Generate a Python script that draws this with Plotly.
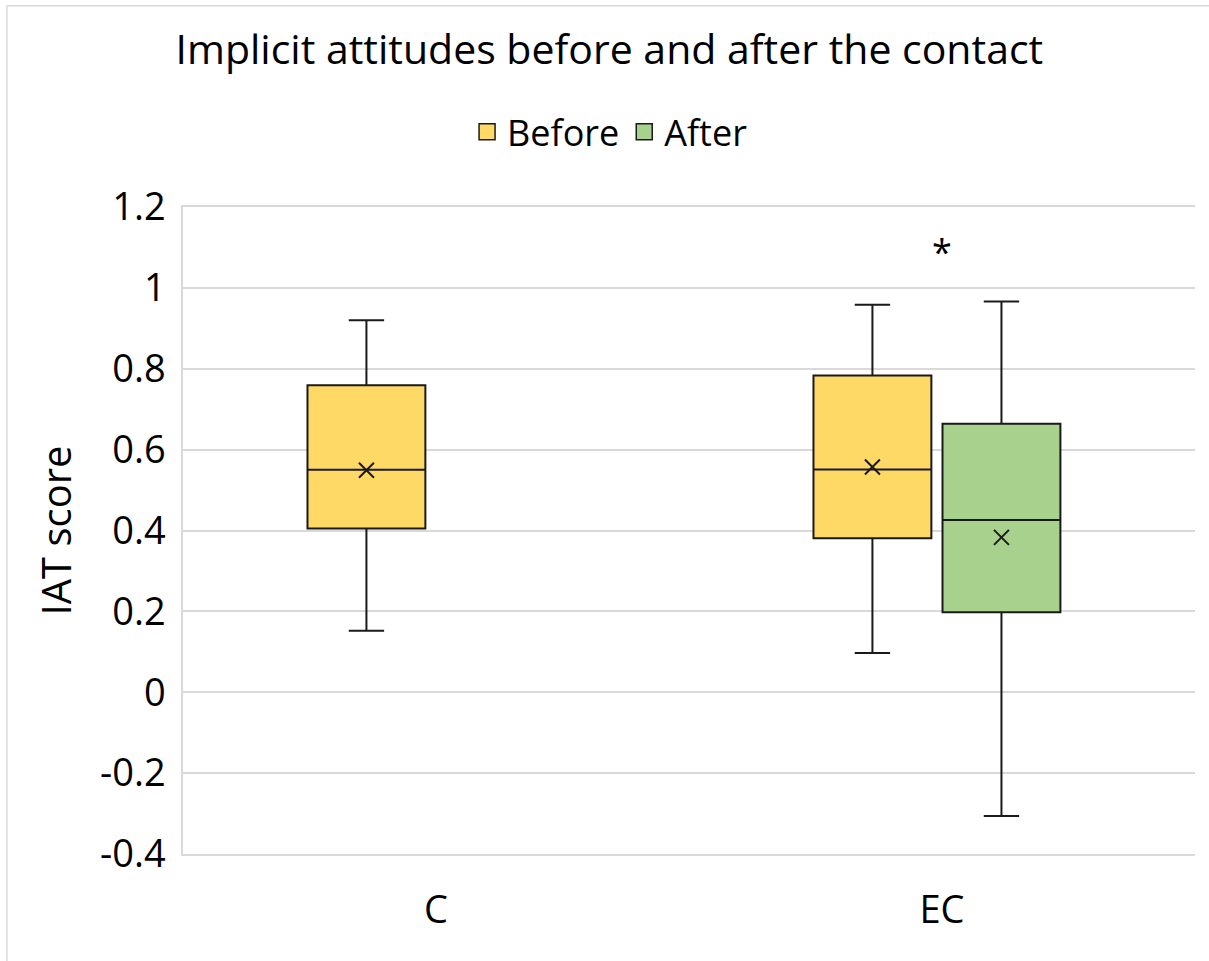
import plotly.graph_objects as go

# ---- data -------------------------------------------------------------
categories = ["C", "EC"]

before_groups = ["C", "EC"]
before_min = [0.152, 0.097]
before_q1 = [0.405, 0.381]
before_median = [0.550, 0.551]
before_q3 = [0.759, 0.783]
before_max = [0.920, 0.958]
before_mean = [0.549, 0.557]

after_groups = ["EC"]
after_min = [-0.306]
after_q1 = [0.198]
after_median = [0.426]
after_q3 = [0.664]
after_max = [0.966]
after_mean = [0.383]

y_tick_values = [-0.4, -0.2, 0, 0.2, 0.4, 0.6, 0.8, 1, 1.2]
y_tick_labels = ["-0.4", "-0.2", "0", "0.2", "0.4", "0.6", "0.8", "1", "1.2"]

# ---- style ------------------------------------------------------------
FONT = "Open Sans"
BEFORE_FILL = "#FFD966"
AFTER_FILL = "#A9D18E"
EDGE = "#1a1a1a"
GRID = "#D9D9D9"
BOX_WIDTH = 0.233
BEFORE_OFFSET = -0.1375
AFTER_OFFSET = 0.1175

cat_index = {c: i for i, c in enumerate(categories)}
before_x = [cat_index[c] + BEFORE_OFFSET for c in before_groups]
after_x = [cat_index[c] + AFTER_OFFSET for c in after_groups]

fig = go.Figure()


def add_series(name, xs, lo, q1, med, q3, hi, mean, fill):
    fig.add_trace(go.Box(
        name=name,
        x=xs,
        lowerfence=lo,
        q1=q1,
        median=med,
        q3=q3,
        upperfence=hi,
        width=BOX_WIDTH,
        whiskerwidth=0.3,
        fillcolor=fill,
        line=dict(color=EDGE, width=2),
        boxpoints=False,
        showlegend=False,
        hoverinfo="skip",
    ))
    # mean marker
    fig.add_trace(go.Scatter(
        x=xs,
        y=mean,
        mode="markers",
        marker=dict(symbol="x-thin", size=15, line=dict(color=EDGE, width=2)),
        showlegend=False,
        hoverinfo="skip",
    ))
    # legend entry: filled square with dark outline
    fig.add_trace(go.Scatter(
        name=name,
        x=[None],
        y=[None],
        mode="markers",
        marker=dict(symbol="square", size=16, color=fill,
                    line=dict(color=EDGE, width=1.5)),
        showlegend=True,
    ))


add_series("Before", before_x, before_min, before_q1, before_median,
           before_q3, before_max, before_mean, BEFORE_FILL)
add_series("After", after_x, after_min, after_q1, after_median,
           after_q3, after_max, after_mean, AFTER_FILL)

# significance marker above the EC group
fig.add_annotation(
    x=cat_index["EC"], y=1.09, text="*", showarrow=False,
    font=dict(family=FONT, size=36, color="#000000"),
    xanchor="center", yanchor="middle",
)

# thin frame along the top and left of the chart area
fig.add_shape(type="line", xref="paper", yref="paper",
              x0=-0.174, x1=1.2, y0=1.311, y1=1.311,
              line=dict(color=GRID, width=1.5), layer="below")
fig.add_shape(type="line", xref="paper", yref="paper",
              x0=-0.174, x1=-0.174, y0=-0.3, y1=1.311,
              line=dict(color=GRID, width=1.5), layer="below")

fig.update_layout(
    width=1209,
    height=961,
    autosize=False,
    margin=dict(l=183, r=14, t=207, b=107),
    paper_bgcolor="white",
    plot_bgcolor="white",
    font=dict(family=FONT, color="#000000"),
    title=dict(
        text="Implicit attitudes before and after the contact",
        x=0.504, xref="container", xanchor="center",
        y=0.948, yref="container", yanchor="middle",
        font=dict(family=FONT, size=41, color="#000000"),
    ),
    legend=dict(
        orientation="h",
        x=0.422, xanchor="center",
        y=1.116, yanchor="middle",
        font=dict(family=FONT, size=36, color="#000000"),
        itemwidth=30,
        traceorder="normal",
    ),
    showlegend=True,
    xaxis=dict(
        range=[-0.5, 1.5],
        tickmode="array",
        tickvals=[cat_index[c] for c in categories],
        ticktext=categories,
        showgrid=False,
        zeroline=False,
        showline=True,
        mirror=True,
        linecolor=GRID,
        linewidth=1.5,
        ticks="",
        ticklabelstandoff=22,
        tickfont=dict(family=FONT, size=38, color="#000000"),
    ),
    yaxis=dict(
        range=[-0.4, 1.2],
        tickmode="array",
        tickvals=y_tick_values,
        ticktext=y_tick_labels,
        showgrid=True,
        gridcolor=GRID,
        gridwidth=1.5,
        zeroline=False,
        showline=True,
        linecolor=GRID,
        linewidth=1.5,
        ticks="",
        ticklabelstandoff=8,
        tickfont=dict(family=FONT, size=38, color="#000000"),
        title=dict(text="IAT score", standoff=16,
                   font=dict(family=FONT, size=40, color="#000000")),
    ),
)

fig.write_html("out.html")
